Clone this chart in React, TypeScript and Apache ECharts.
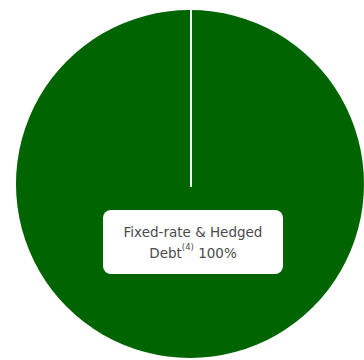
import React, { useEffect, useRef } from "react";
import * as echarts from "echarts";

const categories = ["Fixed-rate & Hedged Debt"];
const values = [100];
const labelLines = ["Fixed-rate & Hedged", "Debt{sup|(4)} 100%"];

const CX = 190;
const CY = 184;
const R = 174;

export default function App() {
  const ref = useRef<HTMLDivElement>(null);
  useEffect(() => {
    if (!ref.current) return;
    const chart = echarts.init(ref.current, null, { renderer: "svg" });
    chart.setOption({
      animation: false,
      backgroundColor: "#ffffff",
      graphic: [
        {
          type: "line",
          z: 100,
          shape: { x1: CX + 1, y1: CY + 3, x2: CX + 1, y2: CY - R },
          style: { stroke: "#f2f2f2", lineWidth: 2 },
        },
      ],
      series: [
        {
          type: "pie",
          center: [CX, CY],
          radius: [0, R],
          startAngle: 90,
          silent: true,
          avoidLabelOverlap: false,
          itemStyle: { color: "#006400" },
          labelLine: { show: false },
          data: categories.map((name, i) => ({
            name,
            value: values[i],
            label: {
              show: true,
              position: "center",
              offset: [3, 58],
              formatter: labelLines.join("\n"),
              backgroundColor: "#ffffff",
              borderRadius: 8,
              padding: [11, 8],
              width: 164,
              align: "center",
              color: "#4a4a4a",
              fontFamily: "DejaVu Sans",
              fontSize: 13.5,
              lineHeight: 21,
              rich: {
                sup: {
                  fontSize: 8.5,
                  verticalAlign: "top",
                  lineHeight: 13,
                  color: "#4a4a4a",
                  fontFamily: "DejaVu Sans",
                },
              },
            },
          })),
        },
      ],
    });
    return () => chart.dispose();
  }, []);
  return (
    <div
      ref={ref}
      style={{ position: "fixed", left: 0, top: 0, width: 364, height: 360 }}
    />
  );
}
